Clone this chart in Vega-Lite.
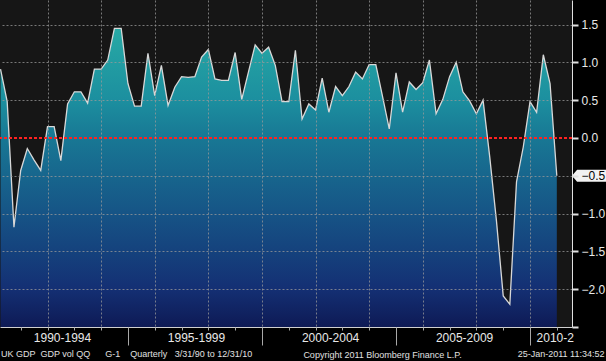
{
  "$schema": "https://vega.github.io/schema/vega-lite/v6.json",
  "width": 572,
  "height": 327,
  "autosize": {"type": "none"},
  "padding": {"left": 0, "top": 0, "right": 34, "bottom": 34},
  "background": "#000000",
  "config": {"view": {"fill": "#161616", "stroke": null}, "font": "Liberation Sans"},
  "title": {
    "text": "UK GDP\u00a0\u00a0GDP vol QQ\u00a0\u00a0\u00a0\u00a0\u00a0\u00a0G-1\u00a0\u00a0\u00a0\u00a0Quarterly\u00a0\u00a0\u00a03/31/90 to 12/31/10",
    "orient": "bottom", "anchor": "start", "align": "left", "dx": 3, "offset": -2,
    "fontSize": 9, "fontWeight": "normal", "color": "#e0e0e0", "font": "Liberation Sans", "baseline": "alphabetic"
  },
  "resolve": {"axis": {"x": "independent"}},
  "data": {"values": [
    {"q": "1990-03-31", "v": 0.91}, {"q": "1990-06-30", "v": 0.48}, {"q": "1990-09-30", "v": -1.18}, {"q": "1990-12-31", "v": -0.43},
    {"q": "1991-03-31", "v": -0.14}, {"q": "1991-06-30", "v": -0.29}, {"q": "1991-09-30", "v": -0.43}, {"q": "1991-12-31", "v": 0.15},
    {"q": "1992-03-31", "v": 0.15}, {"q": "1992-06-30", "v": -0.30}, {"q": "1992-09-30", "v": 0.45}, {"q": "1992-12-31", "v": 0.61},
    {"q": "1993-03-31", "v": 0.61}, {"q": "1993-06-30", "v": 0.46}, {"q": "1993-09-30", "v": 0.91}, {"q": "1993-12-31", "v": 0.91},
    {"q": "1994-03-31", "v": 1.03}, {"q": "1994-06-30", "v": 1.45}, {"q": "1994-09-30", "v": 1.45}, {"q": "1994-12-31", "v": 0.72},
    {"q": "1995-03-31", "v": 0.42}, {"q": "1995-06-30", "v": 0.42}, {"q": "1995-09-30", "v": 1.12}, {"q": "1995-12-31", "v": 0.56},
    {"q": "1996-03-31", "v": 0.96}, {"q": "1996-06-30", "v": 0.43}, {"q": "1996-09-30", "v": 0.67}, {"q": "1996-12-31", "v": 0.81},
    {"q": "1997-03-31", "v": 0.80}, {"q": "1997-06-30", "v": 0.81}, {"q": "1997-09-30", "v": 1.07}, {"q": "1997-12-31", "v": 1.17},
    {"q": "1998-03-31", "v": 0.78}, {"q": "1998-06-30", "v": 0.76}, {"q": "1998-09-30", "v": 0.76}, {"q": "1998-12-31", "v": 1.13},
    {"q": "1999-03-31", "v": 0.51}, {"q": "1999-06-30", "v": 0.87}, {"q": "1999-09-30", "v": 1.23}, {"q": "1999-12-31", "v": 1.12},
    {"q": "2000-03-31", "v": 1.20}, {"q": "2000-06-30", "v": 0.96}, {"q": "2000-09-30", "v": 0.48}, {"q": "2000-12-31", "v": 0.48},
    {"q": "2001-03-31", "v": 1.16}, {"q": "2001-06-30", "v": 0.25}, {"q": "2001-09-30", "v": 0.45}, {"q": "2001-12-31", "v": 0.37},
    {"q": "2002-03-31", "v": 0.79}, {"q": "2002-06-30", "v": 0.34}, {"q": "2002-09-30", "v": 0.68}, {"q": "2002-12-31", "v": 0.56},
    {"q": "2003-03-31", "v": 0.68}, {"q": "2003-06-30", "v": 0.87}, {"q": "2003-09-30", "v": 0.78}, {"q": "2003-12-31", "v": 0.97},
    {"q": "2004-03-31", "v": 0.97}, {"q": "2004-06-30", "v": 0.55}, {"q": "2004-09-30", "v": 0.12}, {"q": "2004-12-31", "v": 0.86},
    {"q": "2005-03-31", "v": 0.34}, {"q": "2005-06-30", "v": 0.74}, {"q": "2005-09-30", "v": 0.64}, {"q": "2005-12-31", "v": 0.73},
    {"q": "2006-03-31", "v": 1.03}, {"q": "2006-06-30", "v": 0.32}, {"q": "2006-09-30", "v": 0.51}, {"q": "2006-12-31", "v": 0.81},
    {"q": "2007-03-31", "v": 1.00}, {"q": "2007-06-30", "v": 0.61}, {"q": "2007-09-30", "v": 0.49}, {"q": "2007-12-31", "v": 0.32},
    {"q": "2008-03-31", "v": 0.50}, {"q": "2008-06-30", "v": -0.25}, {"q": "2008-09-30", "v": -1.10}, {"q": "2008-12-31", "v": -2.09},
    {"q": "2009-03-31", "v": -2.20}, {"q": "2009-06-30", "v": -0.58}, {"q": "2009-09-30", "v": -0.12}, {"q": "2009-12-31", "v": 0.48},
    {"q": "2010-03-31", "v": 0.34}, {"q": "2010-06-30", "v": 1.10}, {"q": "2010-09-30", "v": 0.72}, {"q": "2010-12-31", "v": -0.50}
  ]},
  "layer": [
    {
      "mark": {
        "type": "area", "interpolate": "linear",
        "fill": {"gradient": "linear", "x1": 0, "y1": 0, "x2": 0, "y2": 1, "stops": [
          {"offset": 0, "color": "#27a9a5"},
          {"offset": 0.24, "color": "#1c8f9f"},
          {"offset": 0.37, "color": "#187794"},
          {"offset": 0.62, "color": "#165486"},
          {"offset": 0.87, "color": "#143074"},
          {"offset": 1, "color": "#0e1a55"}
        ]}
      },
      "encoding": {
        "x": {
          "field": "q", "type": "temporal",
          "scale": {"domain": [{"year": 1990, "month": 3, "date": 24}, {"year": 2011, "month": 7, "date": 26}], "nice": false},
          "axis": {
            "orient": "bottom",
            "values": [
              {"year": 1992, "month": 1, "date": 1}, {"year": 1994, "month": 1, "date": 1}, {"year": 1996, "month": 1, "date": 1},
              {"year": 1998, "month": 1, "date": 1}, {"year": 2000, "month": 1, "date": 1}, {"year": 2002, "month": 1, "date": 1},
              {"year": 2004, "month": 1, "date": 1}, {"year": 2006, "month": 1, "date": 1}, {"year": 2008, "month": 1, "date": 1},
              {"year": 2010, "month": 1, "date": 1}
            ],
            "zindex": 1,
            "title": "Copyright 2011 Bloomberg Finance L.P.",
            "titleX": 382, "titleY": 30, "titleAlign": "center", "titleBaseline": "alphabetic", "titleAnchor": null,
            "titleFontSize": 9, "titleFontWeight": "normal", "titleColor": "#e0e0e0", "titleFont": "Liberation Sans",
            "domain": true, "domainColor": "#d0d0d0", "domainWidth": 1,
            "ticks": false, "labels": false,
            "grid": true, "gridColor": "#9a9a9a", "gridDash": [2, 2], "gridWidth": 1, "gridOpacity": 0.75
          }
        },
        "y": {
          "field": "v", "type": "quantitative",
          "scale": {"domain": [-2.5, 1.824], "nice": false, "zero": false},
          "axis": {
            "orient": "right",
            "values": [-2.5, -2.25, -2, -1.75, -1.5, -1.25, -1, -0.75, -0.5, -0.25, 0, 0.25, 0.5, 0.75, 1, 1.25, 1.5, 1.75],
            "zindex": 1,
            "title": "25-Jan-2011 11:34:52",
            "titleAngle": 0, "titleX": 32, "titleY": 356, "titleAlign": "right", "titleBaseline": "alphabetic", "titleAnchor": null,
            "titleFontSize": 9, "titleFontWeight": "normal", "titleColor": "#e0e0e0", "titleFont": "Liberation Sans",
            "domainColor": "#e0e0e0", "tickColor": "#e0e0e0",
            "tickSize": {"condition": {"test": "datum.value % 0.5 == 0", "value": 6}, "value": 4},
            "tickWidth": {"condition": {"test": "datum.value % 0.5 == 0", "value": 2}, "value": 1},
            "labelExpr": "datum.value % 0.5 == 0 && datum.value > -2.5 ? format(datum.value, '.1f') : ''",
            "labelColor": {"condition": {"test": "datum.value == -0.5", "value": "#000000"}, "value": "#e8e8e8"},
            "labelFontSize": 12, "labelPadding": 3, "labelOverlap": false, "labelFlush": false, "labelBound": false, "labelFont": "Liberation Sans",
            "grid": true, "gridDash": [2, 2], "gridWidth": 1, "gridOpacity": 0.75,
            "gridColor": {"condition": {"test": "datum.value % 0.5 != 0 || datum.value == 0 || datum.value <= -2.5", "value": "transparent"}, "value": "#9a9a9a"}
          }
        },
        "y2": {"datum": -2.5}
      }
    },
    {
      "mark": {"type": "line", "color": "#d8d8d8", "strokeWidth": 1.3},
      "encoding": {
        "x": {
          "field": "q", "type": "temporal",
          "axis": {
            "orient": "bottom", "title": null, "zindex": 1,
            "values": [
              {"year": 1995, "month": 1, "date": 1}, {"year": 2000, "month": 1, "date": 1},
              {"year": 2005, "month": 1, "date": 1}, {"year": 2010, "month": 1, "date": 1}
            ],
            "domain": false, "grid": false,
            "ticks": true, "tickSize": 18, "tickColor": "#a8a8a8", "tickWidth": 1,
            "labelExpr": "year(datum.value)==1995 ? '1990-1994' : year(datum.value)==2000 ? '1995-1999' : year(datum.value)==2005 ? '2000-2004' : '2005-2009'",
            "labelOffset": -66, "labelPadding": -13, "labelAlign": "center", "labelBaseline": "top",
            "labelOverlap": false, "labelFlush": false, "labelBound": false,
            "labelFontSize": 12, "labelColor": "#e8e8e8", "labelFont": "Liberation Sans"
          }
        },
        "y": {"field": "v", "type": "quantitative"}
      }
    },
    {
      "mark": {"type": "rule", "color": "#ff2222", "strokeDash": [3, 2], "strokeWidth": 2},
      "encoding": {"y": {"datum": 0}}
    },
    {
      "transform": [
        {"window": [{"op": "row_number", "as": "r"}], "sort": [{"field": "q", "order": "descending"}]},
        {"filter": "datum.r == 1"}
      ],
      "mark": {"type": "point", "shape": "M0,0L0.15,-0.18L1,-0.18L1,0.18L0.15,0.18Z", "filled": true, "color": "#f2f2f2", "opacity": 1, "size": 4624},
      "encoding": {
        "x": {
          "datum": {"year": 2011, "month": 7, "date": 26}, "type": "temporal",
          "axis": {
            "orient": "bottom", "title": null, "zindex": 1,
            "values": [
              {"year": 1991, "month": 1, "date": 1}, {"year": 1992, "month": 1, "date": 1}, {"year": 1993, "month": 1, "date": 1},
              {"year": 1994, "month": 1, "date": 1}, {"year": 1996, "month": 1, "date": 1}, {"year": 1997, "month": 1, "date": 1},
              {"year": 1998, "month": 1, "date": 1}, {"year": 1999, "month": 1, "date": 1}, {"year": 2001, "month": 1, "date": 1},
              {"year": 2002, "month": 1, "date": 1}, {"year": 2003, "month": 1, "date": 1}, {"year": 2004, "month": 1, "date": 1},
              {"year": 2006, "month": 1, "date": 1}, {"year": 2007, "month": 1, "date": 1}, {"year": 2008, "month": 1, "date": 1},
              {"year": 2009, "month": 1, "date": 1}, {"year": 2010, "month": 1, "date": 1}, {"year": 2011, "month": 1, "date": 1}
            ],
            "domain": false, "grid": false,
            "ticks": true, "tickSize": 3, "tickColor": "#a8a8a8", "tickWidth": 1,
            "labelExpr": "year(datum.value)==2010 ? '2010-2' : ''",
            "labelOffset": 6, "labelPadding": 2, "labelAlign": "left", "labelBaseline": "top",
            "labelOverlap": false, "labelFlush": false, "labelBound": false,
            "labelFontSize": 12, "labelColor": "#e8e8e8", "labelFont": "Liberation Sans"
          }
        },
        "y": {"field": "v", "type": "quantitative"}
      }
    }
  ]
}
